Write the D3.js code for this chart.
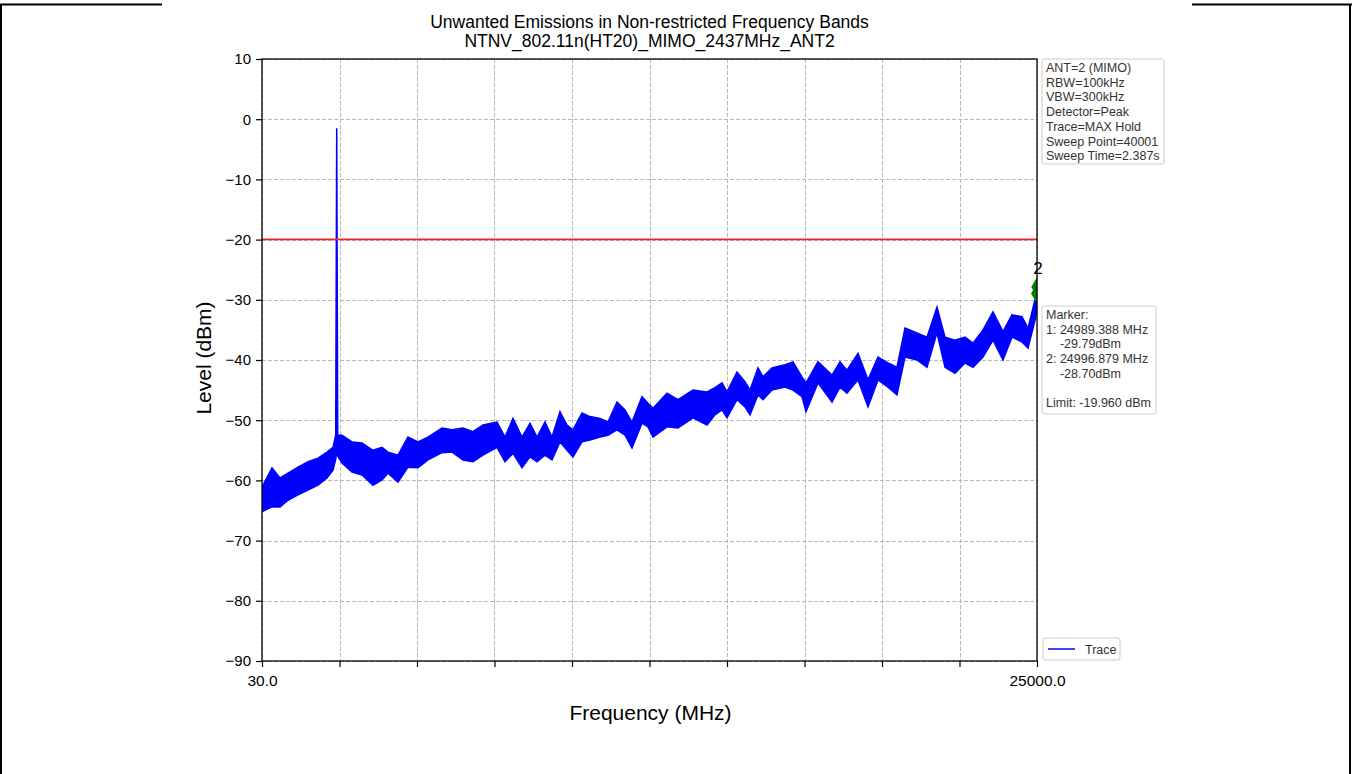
<!DOCTYPE html>
<html>
<head>
<meta charset="utf-8">
<script src="https://cdn.jsdelivr.net/npm/d3@7"></script>
<style>
  html, body { margin: 0; padding: 0; background: #ffffff; }
  svg { display: block; font-family: "Liberation Sans", Arial, sans-serif; }
</style>
</head>
<body>
<script>
// ---------- data ----------
const titleLines = ["Unwanted Emissions in Non-restricted Frequency Bands", "NTNV_802.11n(HT20)_MIMO_2437MHz_ANT2"];
const yTicks = [10, 0, -10, -20, -30, -40, -50, -60, -70, -80, -90];
const xTickValues = [30, 2527, 5024, 7521, 10018, 12515, 15012, 17509, 20006, 22503, 25000];
const xTickLabels = ["30.0", "", "", "", "", "", "", "", "", "", "25000.0"];

// trace envelope (MHz, dBm)
const traceFreq = [30, 352, 610, 868, 1190, 1512, 1834, 2124, 2318, 2405, 2437, 2470, 2608, 2930, 3252, 3606, 3896, 4090, 4412, 4734, 5056, 5378, 5829, 6152,
  6506, 6828, 7150, 7602, 7859, 8117, 8407, 8665, 8890, 9148, 9373, 9631, 9857, 10050, 10340, 10598, 10920, 11178, 11468, 11726, 11951, 12273, 12467,
  12628, 13079, 13433, 13916, 14367, 14625, 14851, 15012, 15334, 15592, 15753, 16011, 16172, 16462, 16881, 17138, 17428, 17557, 17944, 18395, 18653,
  18878, 19233, 19555, 19877, 20199, 20489, 20747, 21133, 21456, 21778, 22036, 22358, 22680, 22938, 23260, 23582, 23904, 24194, 24516, 24710, 24935, 25000];
const traceUpper = [-61.1, -57.9, -59.6, -58.8, -57.8, -56.9, -56.3, -55.3, -54.5, -52.5, -1.5, -52.5, -52.5, -53.6, -53.8, -55.0, -54.5, -55.3, -55.8, -52.8, -53.6, -52.8, -51.3, -51.6,
  -51.3, -51.9, -50.8, -50.3, -52.8, -49.7, -52.8, -50.5, -52.8, -50.3, -52.8, -48.6, -50.8, -51.6, -48.8, -49.4, -49.7, -50.3, -47.0, -48.3, -50.3, -46.1, -47.2,
  -48.0, -45.5, -46.6, -45.0, -45.3, -44.6, -43.8, -45.3, -42.0, -43.6, -45.0, -41.3, -42.8, -41.3, -40.8, -40.3, -42.8, -43.8, -40.3, -42.5, -40.3,
  -41.7, -38.9, -43.3, -39.5, -40.5, -41.2, -34.7, -35.5, -36.2, -31.2, -36.2, -36.7, -36.2, -37.2, -35.0, -32.0, -35.3, -32.5, -32.8, -34.7, -30.0, -29.8];
const traceLower = [-65.2, -64.4, -64.4, -63.3, -62.4, -61.6, -60.8, -59.6, -58.3, -56.5, -55.0, -56.0, -57.1, -58.6, -59.1, -60.8, -59.9, -58.8, -60.3, -57.8, -57.9, -56.6, -55.4, -55.3,
  -56.6, -56.9, -55.8, -54.5, -56.9, -55.5, -57.9, -56.1, -56.9, -55.8, -56.6, -53.6, -55.0, -56.1, -53.6, -53.3, -52.8, -52.5, -51.6, -52.5, -54.6, -50.5, -51.1,
  -52.8, -51.1, -51.3, -49.6, -50.8, -49.1, -48.3, -49.6, -46.6, -47.8, -49.1, -45.8, -46.6, -45.0, -44.5, -45.0, -46.1, -48.6, -43.8, -47.0, -44.5,
  -45.5, -43.3, -47.8, -43.3, -44.5, -45.8, -39.5, -40.0, -41.2, -35.5, -41.2, -42.2, -40.5, -41.2, -39.5, -36.7, -40.0, -36.2, -37.0, -38.0, -33.4, -32.0];

const limitLevel = -19.96;
const markerFreqs = [24989.388, 24996.879];
const markerLevels = [-29.79, -28.70];
const markerNames = ["1", "2"];

const infoLines = ["ANT=2 (MIMO)", "RBW=100kHz", "VBW=300kHz", "Detector=Peak", "Trace=MAX Hold", "Sweep Point=40001", "Sweep Time=2.387s"];
const markerLines = ["Marker:", "1: 24989.388 MHz", "    -29.79dBm", "2: 24996.879 MHz", "    -28.70dBm", "", "Limit: -19.960 dBm"];
const legendLabels = ["Trace"];

// ---------- layout ----------
const W = 1352, H = 774;
const plot = { left: 262, top: 59, right: 1037, bottom: 661 };
const FONT = '"Liberation Sans", Arial, sans-serif';

const svg = d3.select("body").append("svg").attr("width", W).attr("height", H);

// figure frame
svg.append("line").attr("x1", 0).attr("x2", 162).attr("y1", 4.5).attr("y2", 4.5).attr("stroke", "#000").attr("stroke-width", 2);
svg.append("line").attr("x1", 1192).attr("x2", W).attr("y1", 4.5).attr("y2", 4.5).attr("stroke", "#000").attr("stroke-width", 2);
svg.append("line").attr("x1", 1).attr("x2", 1).attr("y1", 4).attr("y2", H).attr("stroke", "#000").attr("stroke-width", 2);
svg.append("line").attr("x1", 1350).attr("x2", 1350).attr("y1", 4).attr("y2", H).attr("stroke", "#000").attr("stroke-width", 2);

const x = d3.scaleLinear().domain([30, 25000]).range([plot.left, plot.right]);
const y = d3.scaleLinear().domain([-90, 10]).range([plot.bottom, plot.top]);

svg.append("defs").append("clipPath").attr("id", "clip")
  .append("rect").attr("x", plot.left).attr("y", plot.top)
  .attr("width", plot.right - plot.left).attr("height", plot.bottom - plot.top);

// grid
const grid = svg.append("g");
grid.selectAll(".hg").data(yTicks).join("line")
  .attr("x1", plot.left).attr("x2", plot.right)
  .attr("y1", d => Math.round(y(d)) + 0.5).attr("y2", d => Math.round(y(d)) + 0.5)
  .attr("stroke", "#b0b0b0").attr("stroke-width", 0.9).attr("stroke-dasharray", "4,2");
grid.selectAll(".vg").data(xTickValues).join("line")
  .attr("y1", plot.top).attr("y2", plot.bottom)
  .attr("x1", d => Math.round(x(d)) + 0.5).attr("x2", d => Math.round(x(d)) + 0.5)
  .attr("stroke", "#b0b0b0").attr("stroke-width", 0.9).attr("stroke-dasharray", "4,2");

// trace
const traceData = traceFreq.map((f, i) => ({ f, hi: traceUpper[i], lo: traceLower[i] }));
const gTrace = svg.append("g").attr("clip-path", "url(#clip)");
gTrace.append("path").datum(traceData)
  .attr("d", d3.area().x(d => x(d.f)).y0(d => y(d.lo)).y1(d => y(d.hi)))
  .attr("fill", "#0000ff").attr("stroke", "#0000ff").attr("stroke-width", 1.5).attr("stroke-linejoin", "miter");

// limit line
svg.append("line").attr("x1", plot.left).attr("x2", plot.right)
  .attr("y1", y(limitLevel)).attr("y2", y(limitLevel))
  .attr("stroke", "#e8282b").attr("stroke-width", 1.6);

// markers
const gMark = svg.append("g").attr("clip-path", "url(#clip)");
gMark.selectAll("path").data(markerFreqs).join("path")
  .attr("transform", (d, i) => `translate(${x(d)},${y(markerLevels[i]) - 5})`)
  .attr("d", d3.symbol().type(d3.symbolDiamond).size(110))
  .attr("fill", "#008000");
svg.append("text").attr("x", x(markerFreqs[1]) + 1).attr("y", y(markerLevels[1]) - 18)
  .attr("text-anchor", "middle").attr("font-size", 17).attr("fill", "#000").text(markerNames[1]);

// axes
const yAxis = d3.axisLeft(y).tickValues(yTicks).tickSize(6).tickPadding(5)
  .tickFormat(d => d < 0 ? "\u2212" + Math.abs(d) : String(d));
const gy = svg.append("g").attr("transform", `translate(${plot.left},0)`).call(yAxis);
gy.select(".domain").remove();
gy.selectAll("line").attr("stroke", "#000").attr("stroke-width", 1.2);
gy.selectAll("text").attr("font-size", 15).attr("fill", "#000").attr("font-family", FONT);

const xAxis = d3.axisBottom(x).tickValues(xTickValues).tickSize(6).tickPadding(8)
  .tickFormat((d, i) => xTickLabels[i]);
const gx = svg.append("g").attr("transform", `translate(0,${plot.bottom})`).call(xAxis);
gx.select(".domain").remove();
gx.selectAll("line").attr("stroke", "#000").attr("stroke-width", 1.2);
gx.selectAll("text").attr("font-size", 15.5).attr("fill", "#000").attr("font-family", FONT);

// spines
svg.append("rect").attr("x", plot.left).attr("y", plot.top)
  .attr("width", plot.right - plot.left).attr("height", plot.bottom - plot.top)
  .attr("fill", "none").attr("stroke", "#000").attr("stroke-width", 1.3);

// titles
svg.selectAll(".title").data(titleLines).join("text")
  .attr("x", (plot.left + plot.right) / 2).attr("y", (d, i) => 28 + i * 19)
  .attr("text-anchor", "middle").attr("font-size", 17.5).attr("fill", "#000").text(d => d);

svg.append("text").attr("x", (plot.left + plot.right) / 2 + 1).attr("y", 720)
  .attr("text-anchor", "middle").attr("font-size", 21).attr("fill", "#000").text("Frequency (MHz)");
svg.append("text").attr("transform", `translate(211,${(plot.top + plot.bottom) / 2 - 2}) rotate(-90)`)
  .attr("text-anchor", "middle").attr("font-size", 21).attr("fill", "#000").text("Level (dBm)");

// info boxes
function textBox(lines, bx, by, bw, bh) {
  const g = svg.append("g");
  g.append("rect").attr("x", bx).attr("y", by).attr("width", bw).attr("height", bh)
    .attr("rx", 2.5).attr("fill", "#fff").attr("fill-opacity", 0.8).attr("stroke", "#cccccc").attr("stroke-width", 1);
  g.selectAll("text").data(lines).join("text")
    .attr("x", bx + 4).attr("y", (d, i) => by + 13 + i * 14.7)
    .attr("font-size", 12.5).attr("fill", "#333").attr("xml:space", "preserve").style("white-space", "pre").text(d => d);
}
textBox(infoLines, 1042, 59, 122, 105);
textBox(markerLines, 1042, 306, 114, 108);

// legend
const lg = svg.append("g");
lg.append("rect").attr("x", 1043).attr("y", 638).attr("width", 77).attr("height", 22)
  .attr("rx", 2.5).attr("fill", "#fff").attr("stroke", "#cccccc");
lg.append("line").attr("x1", 1048).attr("x2", 1075).attr("y1", 649).attr("y2", 649)
  .attr("stroke", "#0000ff").attr("stroke-width", 1.5);
lg.append("text").attr("x", 1085).attr("y", 653.5).attr("font-size", 12.5).attr("fill", "#333").text(legendLabels[0]);
</script>
</body>
</html>
